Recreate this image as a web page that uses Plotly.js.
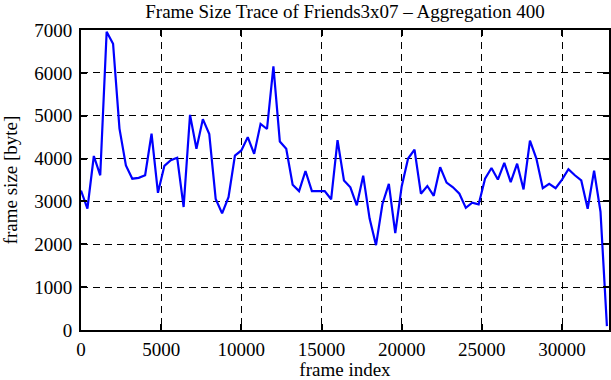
<!DOCTYPE html>
<html>
<head>
<meta charset="utf-8">
<script src="https://cdn.plot.ly/plotly-3.0.1.min.js"></script>
<style>html,body{margin:0;padding:0;background:#fff;}#chart{width:611px;height:380px;}</style>
</head>
<body>
<div id="chart"></div>
<script>
// Aggregation step (frames per point)
const aggregation = 400;
// Frame size values (bytes), one per aggregated block of 400 frames
const frameSizes = [
  3255, 2830, 4060, 3610, 6960, 6680, 4700, 3840, 3530, 3550,
  3610, 4580, 3200, 3830, 3960, 4020, 2870, 5020, 4230, 4920,
  4570, 3060, 2720, 3100, 4070, 4190, 4500, 4110, 4810, 4690,
  6150, 4400, 4230, 3390, 3240, 3710, 3240, 3240, 3240, 3050,
  4430, 3490, 3330, 2910, 3600, 2600, 1980, 2940, 3410, 2260,
  3350, 4000, 4210, 3180, 3360, 3130, 3800, 3440, 3330, 3180,
  2850, 2970, 2930, 3530, 3780, 3510, 3900, 3450, 3880, 3280,
  4420, 4000, 3310, 3410, 3310, 3510, 3750, 3610, 3490, 2830,
  3720, 2760, 90
];
const frameIndex = frameSizes.map((_, i) => i * aggregation);

const titleText = 'Frame Size Trace of Friends3x07 \u2013 Aggregation 400';
const xTitle = 'frame index';
const yTitle = 'frame size [byte]';

const font = {family: '"Liberation Serif", "Times New Roman", serif', size: 19, color: '#000'};

const trace = {
  x: frameIndex, y: frameSizes, type: 'scatter', mode: 'lines',
  line: {color: '#0000ff', width: 2.2}, hoverinfo: 'none'
};

const axisCommon = {
  showline: true, linecolor: '#000', linewidth: 2, mirror: 'ticks',
  ticks: 'inside', ticklen: 6, tickwidth: 2, tickcolor: '#000',
  showgrid: true, gridcolor: '#000', gridwidth: 1, griddash: '7px,5px',
  zeroline: false, tickfont: font
};

const layout = {
  width: 611, height: 380,
  margin: {l: 81, r: 2, t: 30, b: 50},
  paper_bgcolor: '#fff', plot_bgcolor: '#fff',
  font: font, showlegend: false,
  title: {text: titleText, font: font, x: 0.5, xref: 'paper', y: 0.97, yanchor: 'middle'},
  xaxis: Object.assign({}, axisCommon, {
    range: [0, 32930], tickvals: [0, 5000, 10000, 15000, 20000, 25000, 30000],
    ticktext: ['0', '5000', '10000', '15000', '20000', '25000', '30000'],
    title: {text: xTitle, font: font, standoff: 11}, ticklabelstandoff: 1
  }),
  yaxis: Object.assign({}, axisCommon, {
    range: [0, 7000], tickvals: [0, 1000, 2000, 3000, 4000, 5000, 6000, 7000],
    title: {text: yTitle, font: font, standoff: 13}, ticklabelstandoff: 3
  })
};

Plotly.newPlot('chart', [trace], layout, {staticPlot: true, displayModeBar: false});
</script>
</body>
</html>
